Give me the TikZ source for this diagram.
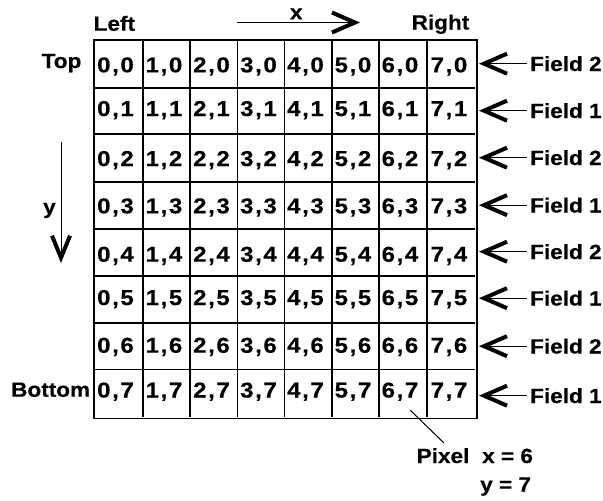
\documentclass[tikz,border=0pt]{standalone}
\usepackage{fontspec}
\setmainfont{Liberation Sans}
\newfontfamily\labfont{Liberation Sans}[FakeStretch=1.1, BoldFeatures={FakeBold=0.4}]
\newfontfamily\cellfont{Liberation Sans}[FakeStretch=1.12, BoldFeatures={FakeBold=0.4}]
\usetikzlibrary{arrows.meta}
\begin{document}
\begin{tikzpicture}[x=1pt,y=-1pt,
  lab/.style={font=\labfont\bfseries\fontsize{20.5}{24}\selectfont, inner sep=0pt, anchor=base west},
  celltext/.style={font=\cellfont\bfseries\fontsize{21.5}{25}\selectfont, inner sep=0pt, anchor=base},
  gridline/.style={line width=1.6pt},
  thinline/.style={line width=0.9pt},
  chev/.style={thinline, -{Straight Barb[length=23pt,width=20pt,line width=4pt]}},
]
\useasboundingbox (0,0) rectangle (603,501);

% grid
\foreach \x in {142.7,190,237.3,284.3,331.7,379,426.7}
  \draw[gridline] (\x,40) -- (\x,416.5);
\foreach \y in {87.7,134,181.7,229,275.7,322.7,369.3}
  \draw[gridline] (94,\y) -- (474.5,\y);
\draw[gridline] (94,40) rectangle (476.7,418.5);

% cells
\foreach \i/\cx in {0/115.5,1/164,2/211.5,3/258.5,4/305.5,5/353,6/400,7/449}
  \foreach \j/\by in {0/72.3,1/116,2/166,3/213.3,4/261.7,5/305,6/352.7,7/397.5}
    \node[celltext] (c\i\j) at (\cx,\by) {\i\kern1.6pt,\kern1.6pt\j};

% field labels and arrows
\coordinate (tipx) at (479,0);
\foreach \j/\cy/\f in {0/63.5/2,1/110.5/1,2/157.5/2,3/205/1,4/251.5/2,5/298/1,6/346/2,7/395.5/1}{
  \node[lab] (f\j) at (530,\cy+7.5) {Field \f};
  \draw[chev, shorten <=3pt] (f\j.west) -- (f\j.west -| tipx);
}

% labels
\node[lab] (left) at (93.5,30.7) {Left};
\node[lab] (right) at (411.5,29.5) {Right};
\node[lab] (xl) at (289.8,19.3) {x};
\node[lab] (top) at (41.5,68) {Top};
\node[lab] (bottom) at (11,396.7) {Bottom};
\node[lab] (yl) at (43,213.8) {y};
\node[lab] (pix) at (416.5,463) {Pixel};
\node[lab] (pxx) at (482,463) {x = 6};
\node[lab] (pxy) at (480,491.5) {y = 7};

% x and y arrows
\coordinate (xs) at (237,22.5);
\coordinate (xe) at (360,22.5);
\draw[chev] (xs) -- (xe);
\coordinate (ys) at (61,141.5);
\coordinate (ye) at (61,263);
\draw[thinline, -{Straight Barb[length=22pt,width=18pt,line width=4pt]}] (ys) -- (ye);

% pixel leader
\coordinate (pxa) at (410,410);
\coordinate (pxb) at (444,443);
\draw[line width=1pt] (pxa) -- (pxb);
\end{tikzpicture}
\end{document}
